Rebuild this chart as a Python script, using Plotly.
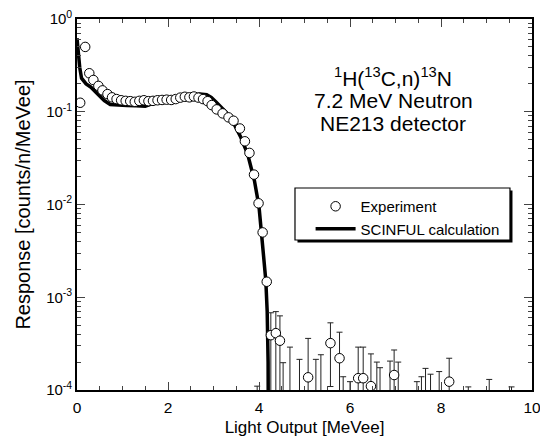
import plotly.graph_objects as go

# ---------------- data ----------------
# SCINFUL calculation (light output [MeVee], response)
calc_x = [0.0, 0.02, 0.06, 0.1, 0.2, 0.3, 0.4, 0.5, 0.6, 0.73, 0.9, 1.1, 1.3, 1.5,
          1.7, 1.9, 2.1, 2.3, 2.5, 2.7, 2.85, 2.95, 3.05, 3.15, 3.3, 3.45, 3.6,
          3.75, 3.9, 4.0, 4.06, 4.1, 4.15, 4.18, 4.2, 4.21]
calc_y = [0.62, 0.45, 0.3, 0.23, 0.2, 0.185, 0.165, 0.145, 0.132, 0.12, 0.118,
          0.117, 0.116, 0.115, 0.125, 0.132, 0.138, 0.145, 0.15, 0.155, 0.153,
          0.143, 0.128, 0.115, 0.096, 0.074, 0.053, 0.035, 0.018, 0.0095, 0.005,
          0.0028, 0.0015, 0.0007, 0.0002, 0.00001]

# Experiment (points with measured counts)
exp_x = [0.07, 0.18, 0.27, 0.36, 0.47, 0.56, 0.67, 0.77, 0.87, 0.97, 1.07, 1.17,
         1.27, 1.37, 1.47, 1.57, 1.67, 1.77, 1.87, 1.97, 2.07, 2.17, 2.27, 2.37,
         2.47, 2.57, 2.67, 2.77, 2.87, 2.96, 3.07, 3.2, 3.33, 3.44, 3.58, 3.69,
         3.79, 3.89, 3.99, 4.08, 4.17, 4.26, 4.37, 4.46, 5.08, 5.57, 5.77, 6.18,
         6.29, 6.46, 6.97, 8.18]
exp_y = [0.125, 0.50, 0.26, 0.22, 0.19, 0.17, 0.155, 0.143, 0.137, 0.133, 0.131,
         0.130, 0.128, 0.131, 0.133, 0.130, 0.131, 0.133, 0.134, 0.135, 0.134,
         0.137, 0.142, 0.145, 0.143, 0.146, 0.142, 0.137, 0.130, 0.118, 0.106,
         0.096, 0.087, 0.080, 0.066, 0.048, 0.036, 0.021, 0.0103, 0.0050, 0.00147,
         3.9e-4, 4.1e-4, 3.4e-4, 1.37e-4, 3.2e-4, 2.2e-4, 1.34e-4, 1.34e-4,
         1.1e-4, 1.45e-4, 1.23e-4]
# upper / lower ends of the error bars (None = hidden by marker)
exp_top = [None] * 41 + [6.8e-4, 7.0e-4, 6.3e-4, 3.6e-4, 5.3e-4, 4.2e-4, 2.9e-4,
                         2.9e-4, 2.45e-4, 2.7e-4, 2.2e-4]
exp_bot = [None] * 41 + [0, 0, 0, 0, 1.09e-4, 0, 0, 0, 0, 0, 0]

# channels with (almost) zero counts: only the upper error bar is visible
zero_x = [3.96, 4.53, 4.68, 4.89, 5.25, 5.36, 5.85, 6.0, 6.59, 6.66, 6.88, 7.06,
          7.47, 7.57, 7.66, 7.77, 7.96, 8.6, 9.06, 9.55]
zero_y = [1e-9] * len(zero_x)
zero_top = [1.1e-4, 1.97e-4, 2.9e-4, 2.14e-4, 2.14e-4, 2.4e-4, 1.39e-4, 1.23e-4,
            2.0e-4, 1.74e-4, 2.05e-4, 2.0e-4, 1.23e-4, 1.39e-4, 1.71e-4, 1.48e-4,
            1.58e-4, 1.08e-4, 1.30e-4, 1.08e-4]

x_tickvals = [0, 2, 4, 6, 8, 10]
y_tickvals = [1, 0.1, 0.01, 0.001, 0.0001]
y_ticktext = ["10<sup>0</sup>", "10<sup>-1</sup>", "10<sup>-2</sup>",
              "10<sup>-3</sup>", "10<sup>-4</sup>"]
y_minor = [m * 10.0 ** e for e in range(-4, 0) for m in range(2, 10)]

FONT = "Liberation Sans, Arial, sans-serif"

err_plus = [0 if t is None else t - y for t, y in zip(exp_top, exp_y)]
err_minus = [0 if b is None else y - b for b, y in zip(exp_bot, exp_y)]
zero_plus = [t - y for t, y in zip(zero_top, zero_y)]

fig = go.Figure()

fig.add_trace(go.Scatter(
    x=calc_x, y=calc_y, mode="lines", name="SCINFUL calculation",
    line=dict(color="black", width=3.5),
))

fig.add_trace(go.Scatter(
    x=zero_x, y=zero_y, mode="markers", showlegend=False, hoverinfo="skip",
    marker=dict(size=1, color="rgba(0,0,0,0)"),
    error_y=dict(type="data", symmetric=False, array=zero_plus,
                 arrayminus=[0] * len(zero_x), color="#222", thickness=1, width=3),
))

fig.add_trace(go.Scatter(
    x=exp_x, y=exp_y, mode="markers", name="Experiment",
    marker=dict(symbol="circle", size=9.5, color="white",
                line=dict(color="black", width=1)),
    error_y=dict(type="data", symmetric=False, array=err_plus,
                 arrayminus=err_minus, color="#222", thickness=1, width=3),
))

fig.update_layout(
    width=540, height=444,
    margin=dict(l=77, r=8, t=19, b=54, autoexpand=False),
    paper_bgcolor="white", plot_bgcolor="white",
    font=dict(family=FONT, size=15, color="black"),
    showlegend=True,
    legend=dict(x=0.5134, y=0.539, xanchor="left", yanchor="top",
                bgcolor="rgba(0,0,0,0)", borderwidth=0, traceorder="reversed",
                font=dict(size=15), tracegroupgap=0, itemwidth=40),
    xaxis=dict(range=[0, 10], tickvals=x_tickvals, ticks="inside", ticklen=8,
               tickwidth=1.2, showline=True, linewidth=1.6, linecolor="black",
               mirror="ticks", showgrid=False, zeroline=False, automargin=False,
               tickfont=dict(size=15.5), ticklabelstandoff=3,
               ticklabeloverflow="allow",
               minor=dict(dtick=0.5, ticks="inside", ticklen=4, tickwidth=1,
                          showgrid=False),
               title=dict(text="Light Output [MeVee]", font=dict(size=17), standoff=6)),
    yaxis=dict(type="log", range=[-4, 0], tickvals=y_tickvals, ticktext=y_ticktext,
               ticks="inside", ticklen=8, tickwidth=1.2, showline=True,
               linewidth=1.6, linecolor="black", mirror="ticks", showgrid=False,
               zeroline=False, automargin=False, tickfont=dict(size=15),
               ticklabeloverflow="allow",
               minor=dict(tickmode="array", tickvals=y_minor, ticks="inside",
                          ticklen=4, tickwidth=1, showgrid=False),
               title=dict(text="Response [counts/n/MeVee]", font=dict(size=20),
                          standoff=10)),
)

# legend frame with drop shadow
lx0, lx1, ly0, ly1 = 0.4791, 0.9516, 0.4043, 0.5445
sx, sy = 2.5 / 455, 2.5 / 371
fig.add_shape(type="rect", xref="paper", yref="paper", layer="above",
              x0=lx0 + sx, x1=lx1 + sx, y0=ly0 - sy, y1=ly1 - sy,
              fillcolor="black", line=dict(width=0))
fig.add_shape(type="rect", xref="paper", yref="paper", layer="above",
              x0=lx0, x1=lx1, y0=ly0, y1=ly1,
              fillcolor="white", line=dict(color="black", width=1.2))

ann = [
    ("<sup>1</sup>H(<sup>13</sup>C,n)<sup>13</sup>N", 0.845),
    ("7.2 MeV Neutron", 0.779),
    ("NE213 detector", 0.717),
]
for txt, yy in ann:
    fig.add_annotation(x=0.695, y=yy, xref="paper", yref="paper", text=txt,
                       showarrow=False, font=dict(size=21, family=FONT),
                       xanchor="center", yanchor="middle")

fig.write_html("out.html")
